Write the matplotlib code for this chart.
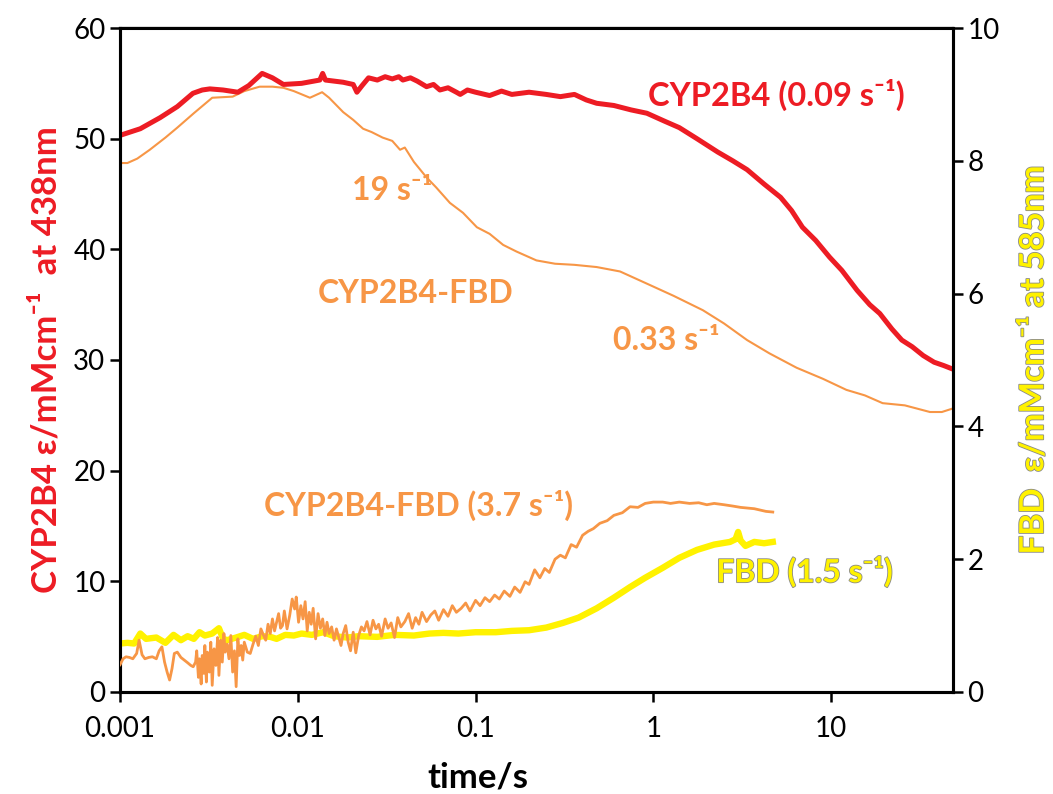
import matplotlib
matplotlib.use("Agg")
import matplotlib.pyplot as plt
import matplotlib.patheffects as pe
import numpy as np

plt.rcParams["font.family"] = ["Lato", "DejaVu Sans"]

RED = "#ED1C24"
ORANGE = "#F79646"
YELLOW = "#FFF200"

# CYP2B4 at 438 nm (left axis)
cyp_t = [0.001, 0.0013, 0.00168, 0.0021, 0.00257, 0.0029, 0.0032, 0.0038, 0.0046, 0.0053,
         0.0063, 0.0072, 0.0083, 0.0105, 0.0133, 0.0138, 0.0143, 0.018, 0.0205, 0.0215,
         0.023, 0.025, 0.028, 0.031, 0.034, 0.037, 0.039, 0.043, 0.047, 0.053, 0.058,
         0.063, 0.07, 0.078, 0.082, 0.09, 0.1, 0.12, 0.14, 0.16, 0.2, 0.25, 0.3, 0.36,
         0.42, 0.48, 0.6, 0.75, 0.92, 1.15, 1.4, 1.76, 2.3, 2.8, 3.37, 4.2, 5.2, 6.0,
         6.9, 8.2, 9.8, 11.5, 14.0, 16.5, 18.8, 22.0, 25.0, 28.6, 33.0, 38.0, 43.0, 48.0]
cyp_v = [50.3, 50.9, 51.9, 52.9, 54.1, 54.4, 54.5, 54.4, 54.2, 54.8,
         55.9, 55.5, 54.9, 55.0, 55.3, 55.9, 55.3, 55.1, 54.9, 54.2,
         54.8, 55.5, 55.3, 55.6, 55.4, 55.6, 55.3, 55.5, 55.2, 54.7, 54.9,
         54.4, 54.6, 54.2, 54.0, 54.4, 54.2, 53.9, 54.3, 54.0, 54.2, 54.0, 53.8, 54.0,
         53.5, 53.2, 53.0, 52.6, 52.3, 51.6, 51.0, 50.0, 48.8, 48.0, 47.2, 45.9, 44.7, 43.5,
         42.0, 40.8, 39.3, 38.1, 36.3, 35.0, 34.2, 32.8, 31.8, 31.2, 30.4, 29.8, 29.5, 29.2]

# CYP2B4-FBD at 438 nm (left axis)
cf_t = [0.001, 0.0011, 0.00125, 0.00147, 0.0018, 0.0021, 0.0026, 0.0033, 0.0043, 0.005,
        0.0061, 0.0072, 0.0083, 0.0095, 0.0117, 0.0137, 0.015, 0.018, 0.0205, 0.0233,
        0.026, 0.030, 0.034, 0.0376, 0.040, 0.045, 0.053, 0.06, 0.0717, 0.085, 0.1017,
        0.12, 0.143, 0.17, 0.22, 0.28, 0.36, 0.48, 0.65, 0.92, 1.3, 1.9, 2.5, 3.37,
        4.5, 6.4, 9.0, 12.2, 15.5, 19.5, 26.0, 36.0, 42.0, 48.0]
cf_v = [47.8, 47.8, 48.2, 49.0, 50.1, 51.0, 52.3, 53.7, 53.8, 54.3,
        54.7, 54.7, 54.6, 54.3, 53.7, 54.2, 53.7, 52.4, 51.7, 50.9,
        50.6, 50.1, 49.8, 49.0, 49.2, 47.9, 46.5, 45.6, 44.2, 43.3, 42.0,
        41.4, 40.4, 39.8, 39.0, 38.7, 38.6, 38.4, 38.0, 36.9, 35.8, 34.5, 33.3, 31.8,
        30.6, 29.3, 28.3, 27.3, 26.8, 26.1, 25.9, 25.3, 25.3, 25.6]

# CYP2B4-FBD at 585 nm (right axis)
cf585_t = [0.001, 0.00104, 0.00108, 0.00113, 0.00118, 0.00124, 0.00128, 0.00133, 0.00138, 0.00145,
           0.00152, 0.0016, 0.00166, 0.00172, 0.00178, 0.00184, 0.0019, 0.00196, 0.00202, 0.0021,
           0.0022, 0.0023, 0.0024, 0.0025, 0.00258, 0.00266, 0.0027, 0.00276, 0.0028, 0.00286,
           0.0029, 0.00296, 0.003, 0.00306, 0.0031, 0.00318, 0.00324, 0.0033, 0.00338, 0.00346,
           0.00354, 0.0036, 0.00368, 0.00376, 0.00384, 0.0039, 0.004, 0.0041, 0.0042, 0.0043,
           0.0044, 0.0045, 0.0046, 0.0047, 0.0048, 0.0049, 0.005, 0.0052, 0.0054, 0.0056,
           0.0058, 0.006, 0.0062, 0.0064, 0.0066, 0.0068, 0.007, 0.0072, 0.0074, 0.0076,
           0.0078, 0.008, 0.0082, 0.0084, 0.0087, 0.009, 0.0093, 0.0096, 0.0098, 0.0101,
           0.0104, 0.0107, 0.011, 0.0113, 0.0116, 0.0119, 0.0122, 0.0126, 0.013, 0.0134,
           0.0138, 0.0142, 0.0146, 0.015, 0.0155, 0.016, 0.0165, 0.017, 0.0175, 0.018,
           0.0186, 0.0192, 0.0198, 0.0205, 0.0212, 0.022, 0.0228, 0.0236, 0.0245, 0.0255,
           0.0265, 0.0275, 0.0285, 0.0296, 0.031, 0.0322, 0.0335, 0.035, 0.0365, 0.038,
           0.04, 0.042, 0.044, 0.046, 0.048, 0.05, 0.053, 0.056, 0.059, 0.062,
           0.066, 0.07, 0.074, 0.078, 0.083, 0.088, 0.093, 0.1, 0.106, 0.113,
           0.12, 0.128, 0.136, 0.145, 0.156, 0.166, 0.178, 0.19, 0.2, 0.215,
           0.23, 0.245, 0.26, 0.28, 0.3, 0.32, 0.345, 0.37, 0.4, 0.43,
           0.46, 0.5, 0.55, 0.6, 0.67, 0.74, 0.82, 0.9, 1.0, 1.13,
           1.25, 1.4, 1.6, 1.8, 2.0, 2.2, 2.5, 2.8, 3.1, 3.37,
           3.7, 4.0, 4.3, 4.7]
cf585_v = [0.41, 0.50, 0.53, 0.52, 0.50, 0.58, 0.78, 0.56, 0.50, 0.52,
           0.53, 0.50, 0.62, 0.68, 0.45, 0.30, 0.18, 0.35, 0.58, 0.60,
           0.52, 0.48, 0.44, 0.40, 0.38, 0.45, 0.62, 0.22, 0.50, 0.12,
           0.55, 0.28, 0.70, 0.15, 0.60, 0.30, 0.75, 0.10, 0.65, 0.40,
           0.82, 0.25, 0.78, 0.45, 0.88, 0.60, 0.72, 0.50, 0.85, 0.30,
           0.62, 0.08, 0.80, 0.55, 0.70, 0.48, 0.75, 0.60, 0.58, 0.72,
           0.84, 0.70, 0.95, 0.86, 0.78, 1.02, 0.88, 1.10, 0.92, 1.05,
           1.18, 0.96, 1.00, 1.22, 0.95, 1.15, 1.40, 1.25, 1.43, 1.05,
           1.30, 1.10, 1.36, 0.92, 1.20, 1.02, 1.26, 0.80, 1.18, 0.96,
           1.10, 0.85, 1.05, 0.88, 0.98, 0.78, 0.95, 0.82, 0.70, 0.88,
           1.00, 0.75, 0.62, 0.90, 0.59, 0.85, 0.98, 0.92, 1.06, 0.86,
           1.08, 0.95, 1.02, 0.84, 1.10, 0.96, 1.04, 0.82, 1.12, 0.98,
           1.06, 1.18, 0.96, 1.12, 1.02, 1.20, 1.06, 1.16, 1.22, 1.08,
           1.24, 1.14, 1.30, 1.20, 1.26, 1.34, 1.22, 1.38, 1.30, 1.42,
           1.36, 1.46, 1.40, 1.52, 1.44, 1.58, 1.50, 1.66, 1.62, 1.84,
           1.72, 1.86, 1.80, 2.00, 2.06, 2.02, 2.22, 2.18, 2.36, 2.42,
           2.46, 2.54, 2.58, 2.66, 2.70, 2.79, 2.78, 2.84, 2.86, 2.86,
           2.84, 2.86, 2.84, 2.85, 2.82, 2.84, 2.82, 2.80, 2.78, 2.77,
           2.76, 2.74, 2.72, 2.71]

# FBD at 585 nm (right axis)
fbd_t = [0.001, 0.0011, 0.0012, 0.0013, 0.0014, 0.0016, 0.0018, 0.002, 0.0022, 0.0024,
         0.0026, 0.0028, 0.003, 0.0033, 0.0036, 0.0038, 0.004, 0.0045, 0.005, 0.0056,
         0.0063, 0.007, 0.0076, 0.0085, 0.0095, 0.0105, 0.012, 0.0139, 0.016, 0.019,
         0.022, 0.028, 0.035, 0.045, 0.055, 0.066, 0.08, 0.1, 0.13, 0.16, 0.2,
         0.25, 0.31, 0.38, 0.48, 0.6, 0.74, 0.9, 1.13, 1.4, 1.76, 2.2, 2.7, 2.9, 3.0,
         3.1, 3.3, 3.7, 4.2, 4.7]
fbd_v = [0.73, 0.74, 0.73, 0.88, 0.80, 0.82, 0.74, 0.86, 0.78, 0.84,
         0.80, 0.90, 0.85, 0.88, 0.96, 0.80, 0.78, 0.82, 0.86, 0.80,
         0.84, 0.83, 0.80, 0.86, 0.85, 0.88, 0.86, 0.90, 0.84, 0.82,
         0.84, 0.83, 0.86, 0.85, 0.88, 0.89, 0.88, 0.90, 0.90, 0.92, 0.93,
         0.97, 1.04, 1.12, 1.26, 1.42, 1.58, 1.72, 1.87, 2.02, 2.14, 2.22, 2.26, 2.30, 2.41,
         2.28, 2.20, 2.26, 2.24, 2.26]

x_ticks = [0.001, 0.01, 0.1, 1, 10]
x_tick_labels = ["0.001", "0.01", "0.1", "1", "10"]
left_ticks = [0, 10, 20, 30, 40, 50, 60]
right_ticks = [0, 2, 4, 6, 8, 10]

fig = plt.figure(figsize=(10.53, 7.94), dpi=100)
ax = fig.add_axes([0.114, 0.1285, 0.791, 0.8362])
ax2 = ax.twinx()

ax.plot(cf_t, cf_v, color=ORANGE, lw=1.5, zorder=2)
ax.plot(cyp_t, cyp_v, color=RED, lw=3.6, zorder=3)
ax2.plot(fbd_t, fbd_v, color=YELLOW, lw=4.6, zorder=2)
ax2.plot(cf585_t, cf585_v, color=ORANGE, lw=2.0, zorder=3)

ax.set_xscale("log")
ax.set_xlim(0.001, 48.5)
ax.set_ylim(0, 60)
ax2.set_ylim(0, 10)
ax.set_xticks(x_ticks)
ax.set_xticklabels(x_tick_labels)
ax.minorticks_off()
ax.set_yticks(left_ticks)
ax2.set_yticks(right_ticks)

for a in (ax, ax2):
    for s in a.spines.values():
        s.set_linewidth(2.2)
    a.tick_params(labelsize=20, width=1.8, length=7, direction="out")
ax2.spines["top"].set_linewidth(1.6)
ax.tick_params(axis="x", pad=10)

ax.set_xlabel("time/s", fontsize=25, fontweight="bold")
ax.xaxis.set_label_coords(0.43, -0.105)
ax.set_ylabel("CYP2B4 ε/mMcm⁻¹  at 438nm", fontsize=25, fontweight="bold",
              color=RED, labelpad=8)
outline = [pe.withStroke(linewidth=1.2, foreground="#8a8a8a")]
ax2.set_ylabel("FBD  ε/mMcm⁻¹ at 585nm", fontsize=24, fontweight="bold",
               color=YELLOW, labelpad=14, path_effects=outline)

ax.text(4.9, 54.0, "CYP2B4 (0.09 s⁻¹)", color=RED, fontsize=23.5, fontweight="bold",
        ha="center", va="center")
ax.text(0.034, 45.3, "19 s⁻¹", color=ORANGE, fontsize=23, fontweight="bold",
        ha="center", va="center")
ax.text(0.046, 36.0, "CYP2B4-FBD", color=ORANGE, fontsize=23, fontweight="bold",
        ha="center", va="center")
ax.text(1.18, 31.8, "0.33 s⁻¹", color=ORANGE, fontsize=23, fontweight="bold",
        ha="center", va="center")
ax.text(0.048, 16.9, "CYP2B4-FBD (3.7 s⁻¹)", color=ORANGE, fontsize=23, fontweight="bold",
        ha="center", va="center")
ax2.text(7.1, 1.81, "FBD (1.5 s⁻¹)", color=YELLOW, fontsize=23, fontweight="bold",
         ha="center", va="center", path_effects=outline)

fig.savefig("out.png", dpi=100)
